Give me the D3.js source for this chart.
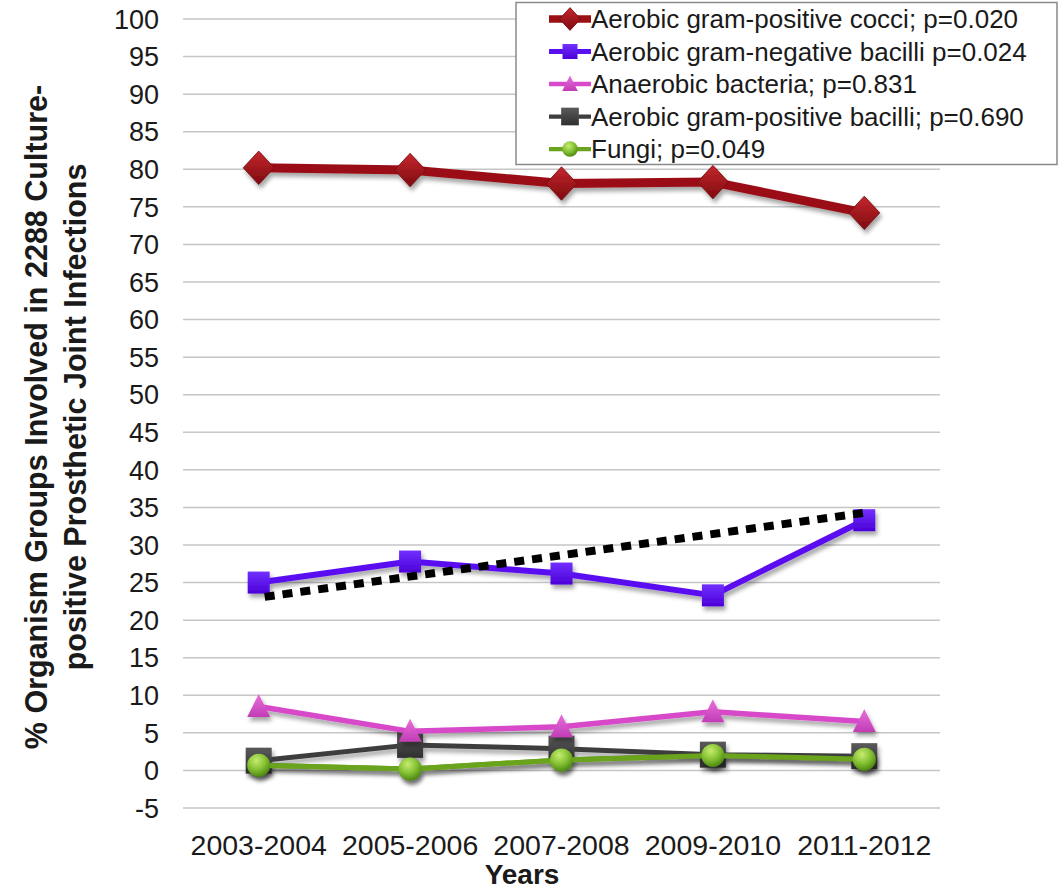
<!DOCTYPE html>
<html>
<head>
<meta charset="utf-8">
<script src="https://cdn.jsdelivr.net/npm/d3@7"></script>
<style>
  html, body { margin: 0; padding: 0; background: #fff; }
  svg { display: block; font-family: "Liberation Sans", Arial, sans-serif; }
</style>
</head>
<body>
<svg id="chart" width="1059" height="890"></svg>
<script>
// Two-year periods on the x axis
const periods = ["2003-2004", "2005-2006", "2007-2008", "2009-2010", "2011-2012"];

// Percentage of culture-positive PJIs involving each organism group
const gramPosCocci   = [80.2, 79.9, 78.1, 78.3, 74.2];
const gramNegBacilli = [25.0, 27.8, 26.2, 23.3, 33.3];
const anaerobes      = [8.5, 5.2, 5.8, 7.8, 6.5];
const gramPosBacilli = [1.3, 3.4, 2.9, 2.1, 1.9];
const fungi          = [0.7, 0.2, 1.4, 2.0, 1.5];

// Hand-drawn trend for gram-negative bacilli (first and last period)
const gnbTrend = [23.1, 34.4];

// Y axis ticks
const yTicks = d3.range(-5, 101, 5);

const seriesNames = [
  "Aerobic gram-positive cocci; p=0.020",
  "Aerobic gram-negative bacilli p=0.024",
  "Anaerobic bacteria; p=0.831",
  "Aerobic gram-positive bacilli; p=0.690",
  "Fungi; p=0.049"
];

const series = [
  { name: seriesNames[0], values: gramPosCocci,   color: "#9a1015", width: 9,   marker: "diamond",  fill: "url(#gRed)" },
  { name: seriesNames[1], values: gramNegBacilli, color: "#5a0ff0", width: 6,   marker: "square",   fill: "url(#gBlue)" },
  { name: seriesNames[2], values: anaerobes,      color: "#d74ac9", width: 5.5, marker: "triangle", fill: "url(#gPink)" },
  { name: seriesNames[3], values: gramPosBacilli, color: "#3e3e3e", width: 5,   marker: "bigsquare", fill: "url(#gGray)" },
  { name: seriesNames[4], values: fungi,          color: "#6ba31f", width: 5,   marker: "circle",   fill: "url(#gGreen)" }
];

const svg = d3.select("#chart");
const plot = { left: 183, right: 940, top: 19, bottom: 808 };

const x = d3.scalePoint().domain(periods).range([plot.left, plot.right]).padding(0.5);
const y = d3.scaleLinear().domain([-5, 100]).range([plot.bottom, plot.top]);

// Gradients and shadow
const defs = svg.append("defs");
const sh = defs.append("filter").attr("id", "shadow").attr("x", "-20%").attr("y", "-20%").attr("width", "140%").attr("height", "160%");
sh.append("feDropShadow").attr("dx", 2).attr("dy", 4).attr("stdDeviation", 2.2)
  .attr("flood-color", "#000").attr("flood-opacity", 0.35);

function linGrad(id, c1, c2) {
  const g = defs.append("linearGradient").attr("id", id)
    .attr("x1", 0).attr("y1", 0).attr("x2", 0).attr("y2", 1);
  g.append("stop").attr("offset", "0%").attr("stop-color", c1);
  g.append("stop").attr("offset", "100%").attr("stop-color", c2);
}
linGrad("gRed", "#c4282e", "#7e0a0e");
linGrad("gBlue", "#7230ff", "#4b00d8");
linGrad("gPink", "#e970dc", "#c23cb5");
linGrad("gGray", "#5a5a5a", "#2f2f2f");
const rg = defs.append("radialGradient").attr("id", "gGreen")
  .attr("cx", "40%").attr("cy", "30%").attr("r", "70%");
rg.append("stop").attr("offset", "0%").attr("stop-color", "#c6ec70");
rg.append("stop").attr("offset", "55%").attr("stop-color", "#86c234");
rg.append("stop").attr("offset", "100%").attr("stop-color", "#4f8a12");

// Gridlines
svg.append("g").selectAll("line").data(yTicks).join("line")
  .attr("x1", plot.left).attr("x2", plot.right)
  .attr("y1", d => y(d)).attr("y2", d => y(d))
  .attr("stroke", "#c6c6c6").attr("stroke-width", 1.5);

// Y tick labels
svg.append("g").selectAll("text").data(yTicks).join("text")
  .attr("x", 159).attr("y", d => y(d)).attr("dy", "0.36em")
  .attr("text-anchor", "end").attr("font-size", 27).attr("fill", "#1a1a1a")
  .text(d => d);

// X tick labels
svg.append("g").selectAll("text").data(periods).join("text")
  .attr("x", d => x(d)).attr("y", 855)
  .attr("text-anchor", "middle").attr("font-size", 28.5).attr("fill", "#1a1a1a")
  .text(d => d);

// Axis titles
svg.append("text").attr("x", 522).attr("y", 884).attr("text-anchor", "middle")
  .attr("font-size", 28).attr("font-weight", "bold").attr("fill", "#1a1a1a").text("Years");

const yTitle = svg.append("text")
  .attr("transform", "translate(0,417) rotate(-90)")
  .attr("text-anchor", "middle").attr("font-size", 30.5).attr("font-weight", "bold").attr("fill", "#1a1a1a");
yTitle.append("tspan").attr("x", 0).attr("y", 47).text("% Organism Groups Involved in 2288 Culture-");
yTitle.append("tspan").attr("x", 0).attr("y", 86).text("positive Prosthetic Joint Infections");

// Marker shapes
function drawMarker(sel, kind, s, fill) {
  if (kind === "diamond") {
    sel.append("path").attr("d", `M0,${-s * 1.08}L${s},0L0,${s * 1.08}L${-s},0Z`)
      .attr("fill", fill).attr("stroke", "#6e080b").attr("stroke-width", 0.8);
  } else if (kind === "square" || kind === "bigsquare") {
    sel.append("rect").attr("x", -s).attr("y", -s).attr("width", 2 * s).attr("height", 2 * s)
      .attr("fill", fill);
  } else if (kind === "triangle") {
    sel.append("path").attr("d", `M0,${-s * 1.1}L${s},${s * 0.9}L${-s},${s * 0.9}Z`).attr("fill", fill);
  } else if (kind === "circle") {
    sel.append("circle").attr("r", s).attr("fill", fill);
  }
}
const markerSize = { diamond: 15.5, square: 11, triangle: 11.5, bigsquare: 13, circle: 11.5 };

const line = d3.line().x((d, i) => x(periods[i])).y(d => y(d));

// Series drawn bottom-up so the cocci line sits on top
const order = [4, 3, 2, 1, 0];
const layer = svg.append("g");
order.forEach(k => {
  const s = series[k];
  const g = layer.append("g").attr("filter", "url(#shadow)");
  g.append("path").datum(s.values).attr("d", line)
    .attr("fill", "none").attr("stroke", s.color).attr("stroke-width", s.width)
    .attr("stroke-linejoin", "round");
  s.values.forEach((v, i) => {
    const m = g.append("g").attr("transform", `translate(${x(periods[i])},${y(v)})`);
    drawMarker(m, s.marker, markerSize[s.marker], s.fill);
  });
});

// Fungi circles sit over the gram-positive bacilli squares
{
  const s = series[4];
  const g = layer.append("g").attr("filter", "url(#shadow)");
  g.append("path").datum(s.values).attr("d", line)
    .attr("fill", "none").attr("stroke", s.color).attr("stroke-width", s.width);
  s.values.forEach((v, i) => {
    const m = g.append("g").attr("transform", `translate(${x(periods[i])},${y(v)})`);
    drawMarker(m, "circle", markerSize.circle, s.fill);
  });
}

// Dotted trend line for gram-negative bacilli
svg.append("line")
  .attr("x1", x(periods[0]) + 6).attr("y1", y(gnbTrend[0]))
  .attr("x2", x(periods[periods.length - 1]) + 6).attr("y2", y(gnbTrend[1]))
  .attr("stroke", "#000").attr("stroke-width", 8).attr("stroke-dasharray", "10,8");

// Legend
const legend = svg.append("g");
legend.append("rect").attr("x", 516).attr("y", 2.5).attr("width", 541).attr("height", 162)
  .attr("fill", "#fff").attr("stroke", "#8a8a8a").attr("stroke-width", 1.5);
series.forEach((s, i) => {
  const cy = 19 + i * 32.5;
  const row = legend.append("g").attr("transform", `translate(0,${cy})`);
  row.append("line").attr("x1", 549).attr("x2", 591).attr("y1", 0).attr("y2", 0)
    .attr("stroke", s.color).attr("stroke-width", s.width * 0.85);
  const m = row.append("g").attr("transform", "translate(570,0)");
  drawMarker(m, s.marker, markerSize[s.marker] * 0.68, s.fill);
  row.append("text").attr("x", 591).attr("y", 0).attr("dy", "0.36em")
    .attr("font-size", 26).attr("fill", "#1a1a1a").text(s.name);
});
</script>
</body>
</html>
